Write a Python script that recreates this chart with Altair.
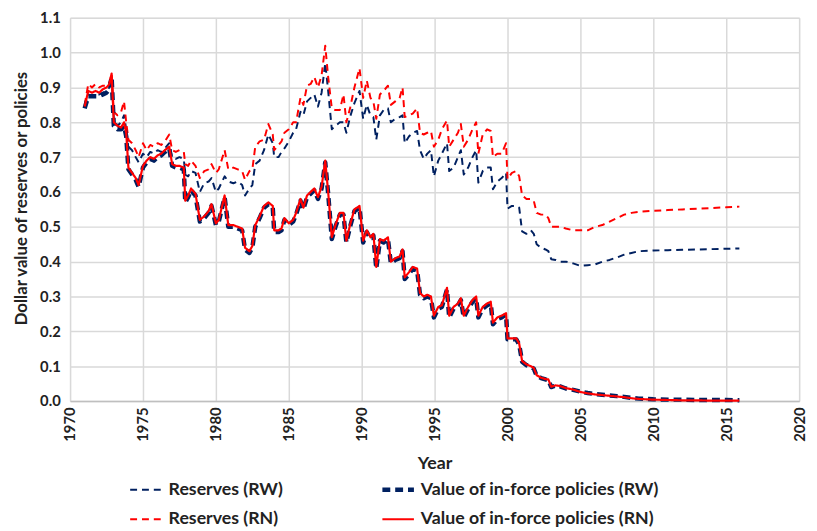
import altair as alt
import pandas as pd

years = [
    1971.0, 1971.25, 1971.5, 1971.75, 1972.0, 1972.25, 1972.5, 1972.7, 1972.85,
    1973.0, 1973.25, 1973.5, 1973.7, 1973.85,
    1974.0, 1974.25, 1974.5, 1974.7,
    1975.0, 1975.25, 1975.5, 1975.75,
    1976.0, 1976.25, 1976.5, 1976.8,
    1977.0, 1977.25, 1977.5, 1977.8, 1977.9,
    1978.1, 1978.3, 1978.6, 1978.9,
    1979.2, 1979.5, 1979.7,
    1980.0, 1980.2, 1980.6, 1980.85,
    1981.2, 1981.5, 1981.8,
    1982.0, 1982.3, 1982.5, 1982.7,
    1983.0, 1983.3, 1983.6, 1983.9,
    1984.0, 1984.3, 1984.5, 1984.7,
    1985.0, 1985.3, 1985.5, 1985.8,
    1986.0, 1986.25, 1986.5, 1986.75,
    1987.0, 1987.25, 1987.5, 1987.7, 1987.95,
    1988.2, 1988.5, 1988.75, 1988.95,
    1989.2, 1989.5, 1989.85,
    1990.1, 1990.35, 1990.6, 1990.8,
    1991.0, 1991.25, 1991.5, 1991.8,
    1992.0, 1992.3, 1992.6, 1992.8, 1992.95,
    1993.25, 1993.5, 1993.8,
    1994.0, 1994.25, 1994.5, 1994.75, 1994.95,
    1995.25, 1995.5, 1995.85,
    1996.0, 1996.3, 1996.6, 1996.8,
    1997.0, 1997.3, 1997.6, 1997.85,
    1998.0, 1998.3, 1998.6, 1998.85,
    1999.0, 1999.3, 1999.6, 1999.9,
    2000.0, 2000.3, 2000.6, 2000.8,
    2001.0, 2001.3, 2001.6, 2001.8,
    2002.0, 2002.3, 2002.6, 2002.8,
    2003.0, 2003.3, 2003.6,
    2004.0, 2004.5,
    2005.0, 2005.5, 2006.0, 2006.5, 2007.0, 2007.5, 2008.0, 2008.5, 2009.0,
    2010.0, 2011.0, 2012.0, 2013.0, 2014.0, 2015.0, 2015.9,
]

inforce_rn = [
    0.845, 0.89, 0.885, 0.89, 0.885, 0.895, 0.90, 0.91, 0.94,
    0.80, 0.79, 0.785, 0.80, 0.77,
    0.67, 0.655, 0.64, 0.62,
    0.675, 0.69, 0.70, 0.695,
    0.705, 0.71, 0.72, 0.73,
    0.68, 0.675, 0.675, 0.67, 0.575,
    0.59, 0.61, 0.595, 0.52,
    0.53, 0.545, 0.565,
    0.51, 0.52, 0.59, 0.505,
    0.505, 0.50, 0.495,
    0.44, 0.43, 0.445, 0.505,
    0.53, 0.56, 0.57, 0.56,
    0.49, 0.49, 0.495, 0.525,
    0.51, 0.52, 0.54, 0.58,
    0.555, 0.59, 0.60, 0.61,
    0.585, 0.615, 0.69, 0.60, 0.47,
    0.505, 0.54, 0.54, 0.46,
    0.505, 0.55, 0.56,
    0.46, 0.49, 0.47, 0.48,
    0.385, 0.465, 0.46, 0.47,
    0.40, 0.41, 0.415, 0.435, 0.355,
    0.37, 0.385, 0.38,
    0.31, 0.30, 0.305, 0.30, 0.245,
    0.27, 0.275, 0.325,
    0.245, 0.27, 0.28, 0.295,
    0.245, 0.27, 0.29, 0.30,
    0.245, 0.27, 0.28, 0.285,
    0.225, 0.24, 0.245, 0.252,
    0.18, 0.18, 0.18, 0.165,
    0.115, 0.105, 0.10, 0.095,
    0.074, 0.067, 0.063, 0.062,
    0.041, 0.045, 0.043,
    0.037, 0.033,
    0.026, 0.022, 0.019, 0.017, 0.015, 0.013, 0.011, 0.008, 0.006,
    0.004, 0.003, 0.002, 0.002, 0.001, 0.001, 0.001,
]

inforce_rw = [
    0.84, 0.875, 0.875, 0.875, 0.875, 0.88, 0.885, 0.895, 0.93,
    0.79, 0.78, 0.78, 0.79, 0.76,
    0.665, 0.65, 0.635, 0.615,
    0.67, 0.685, 0.695, 0.69,
    0.70, 0.705, 0.715, 0.725,
    0.675, 0.67, 0.67, 0.665, 0.57,
    0.585, 0.605, 0.59, 0.515,
    0.525, 0.54, 0.56,
    0.505, 0.515, 0.585, 0.50,
    0.50, 0.495, 0.49,
    0.435, 0.425, 0.44, 0.50,
    0.525, 0.555, 0.565, 0.555,
    0.485, 0.485, 0.49, 0.52,
    0.505, 0.515, 0.535, 0.575,
    0.55, 0.585, 0.595, 0.605,
    0.58, 0.61, 0.685, 0.595, 0.465,
    0.50, 0.535, 0.535, 0.455,
    0.50, 0.545, 0.555,
    0.455, 0.485, 0.465, 0.475,
    0.38, 0.46, 0.455, 0.465,
    0.395, 0.405, 0.41, 0.43, 0.35,
    0.365, 0.38, 0.375,
    0.305, 0.295, 0.30, 0.295, 0.24,
    0.265, 0.27, 0.32,
    0.24, 0.265, 0.275, 0.29,
    0.24, 0.265, 0.285, 0.295,
    0.24, 0.265, 0.275, 0.28,
    0.22, 0.235, 0.24, 0.248,
    0.177, 0.177, 0.177, 0.162,
    0.113, 0.103, 0.098, 0.093,
    0.072, 0.066, 0.062, 0.061,
    0.040, 0.044, 0.042,
    0.036, 0.032,
    0.027, 0.023, 0.020, 0.018, 0.016, 0.014, 0.012, 0.009, 0.007,
    0.005, 0.004, 0.004, 0.003, 0.003, 0.003, 0.002,
]

reserves_rn = [
    0.85, 0.91, 0.90, 0.91, 0.90, 0.905, 0.905, 0.915, 0.94,
    0.83, 0.82, 0.83, 0.86, 0.80,
    0.75, 0.74, 0.72, 0.70,
    0.74, 0.72, 0.735, 0.73,
    0.74, 0.735, 0.745, 0.765,
    0.72, 0.715, 0.72, 0.715, 0.68,
    0.675, 0.69, 0.675, 0.64,
    0.66, 0.665, 0.68,
    0.655, 0.665, 0.72, 0.665,
    0.67, 0.665, 0.66,
    0.635, 0.66, 0.665, 0.73,
    0.745, 0.75, 0.795, 0.765,
    0.72, 0.735, 0.745, 0.77,
    0.78, 0.80, 0.80, 0.87,
    0.85, 0.905, 0.91, 0.93,
    0.90, 0.935, 1.02, 0.93, 0.84,
    0.835, 0.835, 0.88, 0.80,
    0.84, 0.90, 0.955,
    0.87, 0.92, 0.87, 0.86,
    0.81, 0.88, 0.89, 0.905,
    0.85, 0.86, 0.87, 0.90, 0.815,
    0.82, 0.825, 0.84,
    0.77, 0.765, 0.77, 0.775, 0.73,
    0.75, 0.78, 0.805,
    0.73, 0.75, 0.77, 0.795,
    0.73, 0.75, 0.78, 0.80,
    0.71, 0.765, 0.78, 0.775,
    0.70, 0.71, 0.71, 0.74,
    0.637, 0.655, 0.66, 0.645,
    0.59, 0.58, 0.58, 0.575,
    0.54, 0.535, 0.535, 0.525,
    0.50, 0.50, 0.50,
    0.495, 0.49,
    0.49, 0.49, 0.50, 0.505, 0.515, 0.525, 0.535, 0.54, 0.543,
    0.546, 0.548, 0.55, 0.552, 0.554, 0.556, 0.558,
]

reserves_rw = [
    0.845, 0.88, 0.875, 0.88, 0.88, 0.885, 0.89, 0.90, 0.93,
    0.81, 0.79, 0.80, 0.82, 0.78,
    0.73, 0.72, 0.70, 0.685,
    0.71, 0.70, 0.715, 0.71,
    0.72, 0.715, 0.725, 0.74,
    0.70, 0.695, 0.70, 0.695, 0.65,
    0.645, 0.66, 0.655, 0.60,
    0.625, 0.63, 0.64,
    0.60, 0.61, 0.645, 0.63,
    0.625, 0.63, 0.62,
    0.59, 0.61, 0.62, 0.68,
    0.69, 0.72, 0.765, 0.74,
    0.70, 0.70, 0.715, 0.725,
    0.745, 0.77, 0.78, 0.83,
    0.82, 0.86, 0.87, 0.88,
    0.845, 0.885, 0.97, 0.89, 0.78,
    0.79, 0.80, 0.80, 0.77,
    0.815, 0.855, 0.89,
    0.81, 0.85, 0.82, 0.815,
    0.75, 0.82, 0.835, 0.84,
    0.80, 0.81, 0.815, 0.82, 0.74,
    0.76, 0.77, 0.775,
    0.72, 0.695, 0.71, 0.72, 0.645,
    0.69, 0.71, 0.74,
    0.66, 0.67, 0.70, 0.72,
    0.65, 0.67, 0.70, 0.72,
    0.627, 0.66, 0.67, 0.67,
    0.608, 0.63, 0.64, 0.655,
    0.552, 0.56, 0.56, 0.555,
    0.487, 0.48, 0.49, 0.48,
    0.45, 0.44, 0.435, 0.43,
    0.407, 0.405, 0.40,
    0.40, 0.395,
    0.388, 0.39, 0.392, 0.40, 0.405, 0.412, 0.42, 0.425, 0.43,
    0.432, 0.433, 0.434, 0.435, 0.436, 0.437, 0.438,
]

# legend order (column-major in a 2-column legend)
series_names = [
    "Reserves (RW)",
    "Reserves (RN)",
    "Value of in-force policies (RW)",
    "Value of in-force policies (RN)",
]
series_colors = ["#002060", "#FF0000", "#002060", "#FF0000"]
series_dashes = [[7, 5], [7, 5], [8, 5], [1, 0]]
series_widths = [2.0, 2.0, 4.5, 2.2]
series_values = [reserves_rw, reserves_rn, inforce_rw, inforce_rn]
draw_order = [0, 1, 2, 3]

x_ticks = list(range(1970, 2021, 5))
y_ticks = [round(i * 0.1, 1) for i in range(12)]

rows = []
for name, vals in zip(series_names, series_values):
    n = min(len(years), len(vals))
    for yr, v in zip(years[:n], vals[:n]):
        rows.append({"Year": yr, "Value": v, "Series": name})
df = pd.DataFrame(rows)

FONT = "Lato"
TXT = "#222222"

legend = alt.Legend(
    title=None,
    orient="none",
    legendX=68,
    legendY=470,
    columns=2,
    symbolType="stroke",
    symbolSize=1024,
    symbolStrokeWidth={"expr": "datum.value === 'Value of in-force policies (RW)' ? 4.5 : 2"},
    labelFont=FONT,
    labelFontSize=18,
    labelFontWeight="bold",
    labelColor=TXT,
    columnPadding=91,
    rowPadding=12,
    labelOffset=14,
    labelLimit=400,
)

x_enc = alt.X(
    "Year:Q",
    scale=alt.Scale(domain=[1970, 2020], nice=False, zero=False),
    axis=alt.Axis(
        values=x_ticks, format="d", labelAngle=-90, labelFont=FONT,
        labelFontSize=15, labelFontWeight="bold", labelColor=TXT,
        ticks=False, labelPadding=6, labelFlush=False,
        title="Year", titleFont=FONT, titleFontSize=18,
        titleFontWeight="bold", titleColor=TXT, titlePadding=14,
        grid=True, gridColor="#d9d9d9", gridWidth=1.5,
        domainColor="#bfbfbf", domainWidth=1.5,
    ),
)
y_enc = alt.Y(
    "Value:Q",
    scale=alt.Scale(domain=[0, 1.1], nice=False),
    axis=alt.Axis(
        values=y_ticks, format=".1f", labelFont=FONT, labelFontSize=15,
        labelFontWeight="bold", labelColor=TXT, ticks=False,
        labelPadding=10, labelFlush=False,
        title="Dollar value of reserves or policies", titleFont=FONT,
        titleFontSize=17, titleFontWeight="bold", titleColor=TXT,
        titlePadding=9, titleY=183, grid=True, gridColor="#d9d9d9",
        gridWidth=1.5, domain=False,
    ),
)
color_enc = alt.Color(
    "Series:N", scale=alt.Scale(domain=series_names, range=series_colors), legend=legend
)
dash_enc = alt.StrokeDash(
    "Series:N", scale=alt.Scale(domain=series_names, range=series_dashes), legend=legend
)

base = alt.Chart(df)
layers = []
for i in draw_order:
    name = series_names[i]
    layers.append(
        base.transform_filter(alt.datum.Series == name)
        .mark_line(strokeJoin="round", strokeWidth=series_widths[i])
        .encode(x=x_enc, y=y_enc, color=color_enc, strokeDash=dash_enc)
    )

chart = (
    alt.layer(*layers)
    .properties(
        width=740,
        height=389,
        autosize=alt.AutoSizeParams(type="none"),
        padding={"left": 63, "top": 6, "right": 10, "bottom": 128},
    )
    .configure_view(stroke=None)
    .configure(background="white")
)

chart.save("out.html", embed_options={"renderer": "svg", "actions": False})
